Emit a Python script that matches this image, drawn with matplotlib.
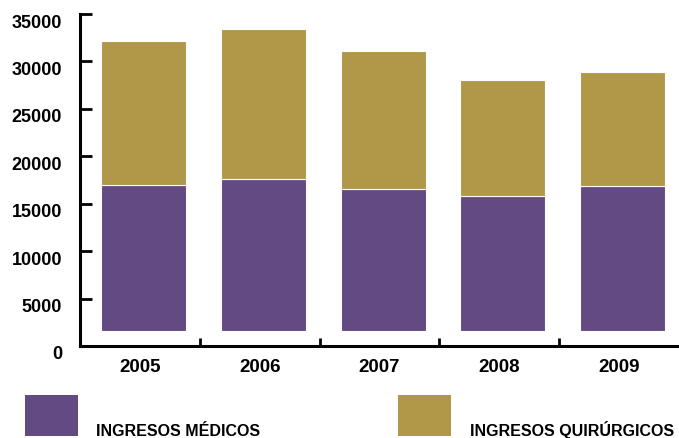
import numpy as np
import matplotlib
matplotlib.use('Agg')
import matplotlib.pyplot as plt
from matplotlib.patches import Rectangle
from matplotlib.transforms import ScaledTranslation

years = ['2005', '2006', '2007', '2008', '2009']
base = 1600
medicos = [17000, 17600, 16600, 15800, 16900]
quirurgicos = [15200, 15800, 14450, 12200, 11950]
yticks = [0, 5000, 10000, 15000, 20000, 25000, 30000, 35000]

purple = '#634a82'
gold = '#b09848'
fam = ['Liberation Sans', 'DejaVu Sans']

fig = plt.figure(figsize=(6.79, 4.39), dpi=100)
ax = fig.add_axes([80/679, 92/439, 1 - 80/679, 332/439])

x = np.arange(len(years)) + 0.03
med = np.array(medicos)
ax.bar(x, med - base, bottom=base, width=0.71, color=purple, edgecolor='white', linewidth=0.8)
ax.bar(x, quirurgicos, bottom=med, width=0.71, color=gold, edgecolor='white', linewidth=0.8)

ax.set_xlim(-0.5, 4.5)
ax.set_ylim(0, 35000)
for s in ['top', 'right']:
    ax.spines[s].set_visible(False)
ax.spines['left'].set_linewidth(2.2)
ax.spines['bottom'].set_linewidth(2.2)
ax.spines['left'].set_bounds(0, 35000)

ax.set_yticks(yticks)
ax.set_yticklabels([str(v) for v in yticks], fontsize=13, fontweight='bold', family=fam)
ax.tick_params(axis='y', direction='in', length=8.5, width=2, pad=13)
for lab in ax.get_yticklabels():
    lab.set_transform(lab.get_transform() + ScaledTranslation(0, -0.06, fig.dpi_scale_trans))

ax.set_xticks(np.arange(len(years)))
ax.set_xticklabels(years, fontsize=13.5, fontweight='bold', family=fam)
ax.tick_params(axis='x', which='major', length=0, pad=9)
ax.set_xticks(np.arange(len(years) - 1) + 0.5, minor=True)
ax.tick_params(axis='x', which='minor', direction='in', length=6, width=2)

# legend drawn by hand
fig.patches.append(Rectangle((25/679, 2/439), 53/679, 41/439, transform=fig.transFigure,
                             facecolor=purple, edgecolor='none'))
fig.patches.append(Rectangle((398/679, 2/439), 53/679, 41/439, transform=fig.transFigure,
                             facecolor=gold, edgecolor='none'))
fig.text(96/679, 3/439, 'INGRESOS MÉDICOS', fontsize=11.5, fontweight='bold',
         family=fam, va='baseline')
fig.text(470/679, 3/439, 'INGRESOS QUIRÚRGICOS', fontsize=11.5, fontweight='bold',
         family=fam, va='baseline')

fig.savefig('out.png', dpi=100)
